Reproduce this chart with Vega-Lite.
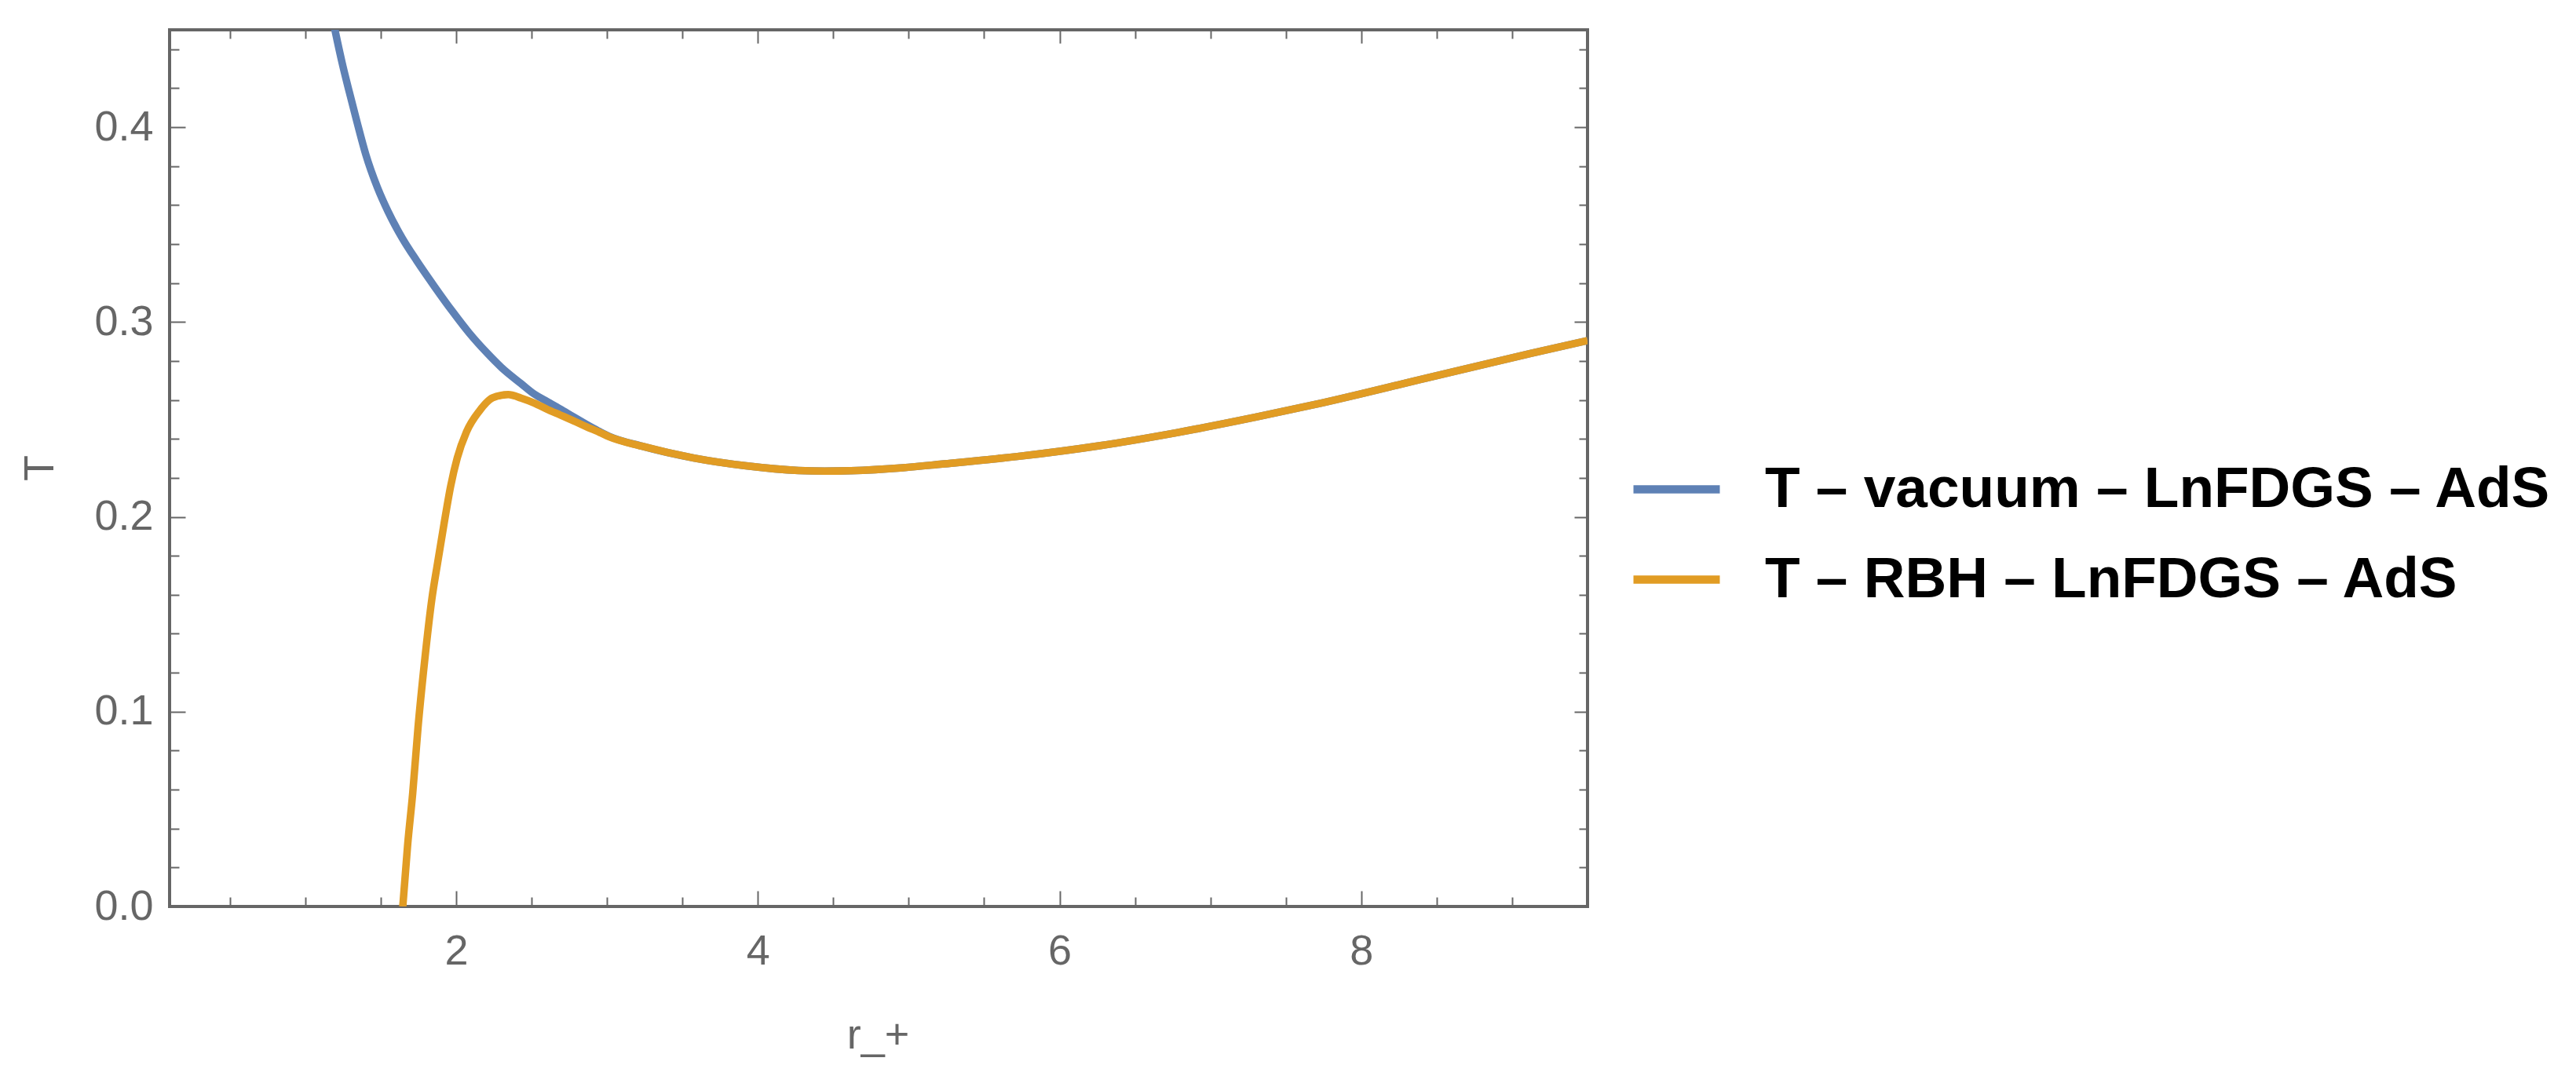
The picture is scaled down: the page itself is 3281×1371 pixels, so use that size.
{
  "$schema": "https://vega.github.io/schema/vega-lite/v6.json",
  "width": 1806,
  "height": 1117,
  "autosize": {"type": "none"},
  "padding": {"left": 216, "top": 38, "right": 1259, "bottom": 216},
  "background": "white",
  "config": {
    "view": {"stroke": "#666666", "strokeWidth": 4},
    "axis": {
      "grid": false,
      "domain": false,
      "tickColor": "#666666",
      "tickWidth": 2,
      "labelFont": "Liberation Sans",
      "labelFontSize": 54,
      "labelColor": "#666666",
      "titleFont": "Liberation Sans",
      "titleFontSize": 54,
      "titleColor": "#666666",
      "titleFontWeight": "normal"
    },
    "legend": {
      "symbolType": "stroke",
      "symbolSize": 12100,
      "symbolStrokeWidth": 10.5,
      "labelFont": "Liberation Sans",
      "labelFontSize": 73,
      "labelFontWeight": "bold",
      "labelColor": "black",
      "labelLimit": 3000,
      "labelOffset": 52,
      "rowPadding": 17,
      "padding": 0
    }
  },
  "datasets": {
    "curves": [
      {"series": "T – vacuum – LnFDGS – AdS", "r": 1.184, "T": 0.4545},
      {"series": "T – vacuum – LnFDGS – AdS", "r": 1.198, "T": 0.4493},
      {"series": "T – vacuum – LnFDGS – AdS", "r": 1.244, "T": 0.4330},
      {"series": "T – vacuum – LnFDGS – AdS", "r": 1.291, "T": 0.4182},
      {"series": "T – vacuum – LnFDGS – AdS", "r": 1.343, "T": 0.4025},
      {"series": "T – vacuum – LnFDGS – AdS", "r": 1.400, "T": 0.3862},
      {"series": "T – vacuum – LnFDGS – AdS", "r": 1.478, "T": 0.3690},
      {"series": "T – vacuum – LnFDGS – AdS", "r": 1.548, "T": 0.3568},
      {"series": "T – vacuum – LnFDGS – AdS", "r": 1.643, "T": 0.3430},
      {"series": "T – vacuum – LnFDGS – AdS", "r": 1.738, "T": 0.3315},
      {"series": "T – vacuum – LnFDGS – AdS", "r": 1.860, "T": 0.3178},
      {"series": "T – vacuum – LnFDGS – AdS", "r": 1.972, "T": 0.3058},
      {"series": "T – vacuum – LnFDGS – AdS", "r": 2.085, "T": 0.2945},
      {"series": "T – vacuum – LnFDGS – AdS", "r": 2.200, "T": 0.2845},
      {"series": "T – vacuum – LnFDGS – AdS", "r": 2.300, "T": 0.2767},
      {"series": "T – vacuum – LnFDGS – AdS", "r": 2.430, "T": 0.2684},
      {"series": "T – vacuum – LnFDGS – AdS", "r": 2.518, "T": 0.2630},
      {"series": "T – vacuum – LnFDGS – AdS", "r": 2.590, "T": 0.2598},
      {"series": "T – vacuum – LnFDGS – AdS", "r": 2.692, "T": 0.2553},
      {"series": "T – vacuum – LnFDGS – AdS", "r": 2.780, "T": 0.2512},
      {"series": "T – vacuum – LnFDGS – AdS", "r": 2.865, "T": 0.2474},
      {"series": "T – vacuum – LnFDGS – AdS", "r": 2.950, "T": 0.2438},
      {"series": "T – vacuum – LnFDGS – AdS", "r": 3.012, "T": 0.2414},
      {"series": "T – vacuum – LnFDGS – AdS", "r": 3.229, "T": 0.2363},
      {"series": "T – vacuum – LnFDGS – AdS", "r": 3.576, "T": 0.2302},
      {"series": "T – vacuum – LnFDGS – AdS", "r": 3.922, "T": 0.2262},
      {"series": "T – vacuum – LnFDGS – AdS", "r": 4.269, "T": 0.2238},
      {"series": "T – vacuum – LnFDGS – AdS", "r": 4.442, "T": 0.2235},
      {"series": "T – vacuum – LnFDGS – AdS", "r": 4.617, "T": 0.2237},
      {"series": "T – vacuum – LnFDGS – AdS", "r": 4.962, "T": 0.2252},
      {"series": "T – vacuum – LnFDGS – AdS", "r": 5.222, "T": 0.2271},
      {"series": "T – vacuum – LnFDGS – AdS", "r": 5.742, "T": 0.2312},
      {"series": "T – vacuum – LnFDGS – AdS", "r": 6.262, "T": 0.2365},
      {"series": "T – vacuum – LnFDGS – AdS", "r": 6.782, "T": 0.2433},
      {"series": "T – vacuum – LnFDGS – AdS", "r": 7.302, "T": 0.2512},
      {"series": "T – vacuum – LnFDGS – AdS", "r": 7.735, "T": 0.2584},
      {"series": "T – vacuum – LnFDGS – AdS", "r": 8.429, "T": 0.2712},
      {"series": "T – vacuum – LnFDGS – AdS", "r": 9.122, "T": 0.2839},
      {"series": "T – vacuum – LnFDGS – AdS", "r": 9.500, "T": 0.2905},
      {"series": "T – RBH – LnFDGS – AdS", "r": 1.646, "T": 0.0},
      {"series": "T – RBH – LnFDGS – AdS", "r": 1.678, "T": 0.0315},
      {"series": "T – RBH – LnFDGS – AdS", "r": 1.712, "T": 0.0584},
      {"series": "T – RBH – LnFDGS – AdS", "r": 1.747, "T": 0.0919},
      {"series": "T – RBH – LnFDGS – AdS", "r": 1.790, "T": 0.1255},
      {"series": "T – RBH – LnFDGS – AdS", "r": 1.839, "T": 0.1580},
      {"series": "T – RBH – LnFDGS – AdS", "r": 1.877, "T": 0.1765},
      {"series": "T – RBH – LnFDGS – AdS", "r": 1.920, "T": 0.1967},
      {"series": "T – RBH – LnFDGS – AdS", "r": 1.964, "T": 0.2160},
      {"series": "T – RBH – LnFDGS – AdS", "r": 2.007, "T": 0.2302},
      {"series": "T – RBH – LnFDGS – AdS", "r": 2.068, "T": 0.2436},
      {"series": "T – RBH – LnFDGS – AdS", "r": 2.154, "T": 0.2544},
      {"series": "T – RBH – LnFDGS – AdS", "r": 2.241, "T": 0.2611},
      {"series": "T – RBH – LnFDGS – AdS", "r": 2.345, "T": 0.2628},
      {"series": "T – RBH – LnFDGS – AdS", "r": 2.430, "T": 0.2610},
      {"series": "T – RBH – LnFDGS – AdS", "r": 2.518, "T": 0.2584},
      {"series": "T – RBH – LnFDGS – AdS", "r": 2.600, "T": 0.2553},
      {"series": "T – RBH – LnFDGS – AdS", "r": 2.692, "T": 0.2522},
      {"series": "T – RBH – LnFDGS – AdS", "r": 2.780, "T": 0.2492},
      {"series": "T – RBH – LnFDGS – AdS", "r": 2.865, "T": 0.2462},
      {"series": "T – RBH – LnFDGS – AdS", "r": 2.950, "T": 0.2434},
      {"series": "T – RBH – LnFDGS – AdS", "r": 3.012, "T": 0.2412},
      {"series": "T – RBH – LnFDGS – AdS", "r": 3.229, "T": 0.2363},
      {"series": "T – RBH – LnFDGS – AdS", "r": 3.576, "T": 0.2302},
      {"series": "T – RBH – LnFDGS – AdS", "r": 3.922, "T": 0.2262},
      {"series": "T – RBH – LnFDGS – AdS", "r": 4.269, "T": 0.2238},
      {"series": "T – RBH – LnFDGS – AdS", "r": 4.442, "T": 0.2235},
      {"series": "T – RBH – LnFDGS – AdS", "r": 4.617, "T": 0.2237},
      {"series": "T – RBH – LnFDGS – AdS", "r": 4.962, "T": 0.2252},
      {"series": "T – RBH – LnFDGS – AdS", "r": 5.222, "T": 0.2271},
      {"series": "T – RBH – LnFDGS – AdS", "r": 5.742, "T": 0.2312},
      {"series": "T – RBH – LnFDGS – AdS", "r": 6.262, "T": 0.2365},
      {"series": "T – RBH – LnFDGS – AdS", "r": 6.782, "T": 0.2433},
      {"series": "T – RBH – LnFDGS – AdS", "r": 7.302, "T": 0.2512},
      {"series": "T – RBH – LnFDGS – AdS", "r": 7.735, "T": 0.2584},
      {"series": "T – RBH – LnFDGS – AdS", "r": 8.429, "T": 0.2712},
      {"series": "T – RBH – LnFDGS – AdS", "r": 9.122, "T": 0.2839},
      {"series": "T – RBH – LnFDGS – AdS", "r": 9.500, "T": 0.2905}
    ]
  },
  "data": {"name": "curves"},
  "layer": [
    {
      "transform": [{"filter": "datum.series === 'T – vacuum – LnFDGS – AdS'"}],
      "mark": {"type": "line", "strokeWidth": 9.5, "clip": true, "interpolate": "monotone"},
      "encoding": {
        "x": {
          "field": "r", "type": "quantitative",
          "scale": {"domain": [0.1, 9.5], "nice": false, "zero": false},
          "axis": {"orient": "bottom", "values": [2, 4, 6, 8], "format": "d", "tickSize": -20, "labelPadding": 93, "labelBaseline": "alphabetic", "labelFlush": false, "title": "r_+", "titleX": 902, "titleY": 180, "titleBaseline": "alphabetic", "titleAlign": "center"}
        },
        "y": {
          "field": "T", "type": "quantitative",
          "scale": {"domain": [0, 0.45], "nice": false, "zero": false},
          "axis": {"orient": "left", "values": [0, 0.1, 0.2, 0.3, 0.4], "format": ".1f", "tickSize": -20, "labelPadding": 41, "labelAlign": "right", "labelBaseline": "middle", "title": "T", "titleX": -149, "titleY": 558, "titleAngle": -90, "titleAlign": "center", "titleBaseline": "alphabetic"}
        },
        "color": {
          "field": "series", "type": "nominal",
          "scale": {"domain": ["T – vacuum – LnFDGS – AdS", "T – RBH – LnFDGS – AdS"], "range": ["#5E81B5", "#E19C24"]},
          "legend": {"title": null, "orient": "none", "legendX": 1859, "legendY": 525}
        }
      }
    },
    {
      "transform": [{"filter": "datum.series === 'T – RBH – LnFDGS – AdS'"}],
      "mark": {"type": "line", "strokeWidth": 9.5, "clip": true, "interpolate": "monotone"},
      "encoding": {
        "x": {
          "field": "r", "type": "quantitative",
          "axis": {"orient": "top", "values": [2, 4, 6, 8], "tickSize": -17, "labels": false, "title": null}
        },
        "y": {
          "field": "T", "type": "quantitative",
          "axis": {"orient": "right", "values": [0, 0.1, 0.2, 0.3, 0.4], "tickSize": -17, "labels": false, "title": null}
        },
        "color": {
          "field": "series", "type": "nominal",
          "legend": {"title": null, "orient": "none", "legendX": 1859, "legendY": 525}
        }
      }
    },
    {
      "mark": {"type": "point", "opacity": 0},
      "encoding": {
        "x": {
          "field": "r", "type": "quantitative",
          "axis": {"orient": "bottom", "values": [0.5, 1, 1.5, 2.5, 3, 3.5, 4.5, 5, 5.5, 6.5, 7, 7.5, 8.5, 9], "tickSize": -12, "labels": false, "title": null}
        },
        "y": {
          "field": "T", "type": "quantitative",
          "axis": {"orient": "left", "values": [0.02, 0.04, 0.06, 0.08, 0.12, 0.14, 0.16, 0.18, 0.22, 0.24, 0.26, 0.28, 0.32, 0.34, 0.36, 0.38, 0.42, 0.44], "tickSize": -12, "labels": false, "title": null}
        }
      }
    },
    {
      "mark": {"type": "point", "opacity": 0},
      "encoding": {
        "x": {
          "field": "r", "type": "quantitative",
          "axis": {"orient": "top", "values": [0.5, 1, 1.5, 2.5, 3, 3.5, 4.5, 5, 5.5, 6.5, 7, 7.5, 8.5, 9], "tickSize": -11, "labels": false, "title": null}
        },
        "y": {
          "field": "T", "type": "quantitative",
          "axis": {"orient": "right", "values": [0.02, 0.04, 0.06, 0.08, 0.12, 0.14, 0.16, 0.18, 0.22, 0.24, 0.26, 0.28, 0.32, 0.34, 0.36, 0.38, 0.42, 0.44], "tickSize": -11, "labels": false, "title": null}
        }
      }
    }
  ],
  "resolve": {"axis": {"x": "independent", "y": "independent"}}
}
